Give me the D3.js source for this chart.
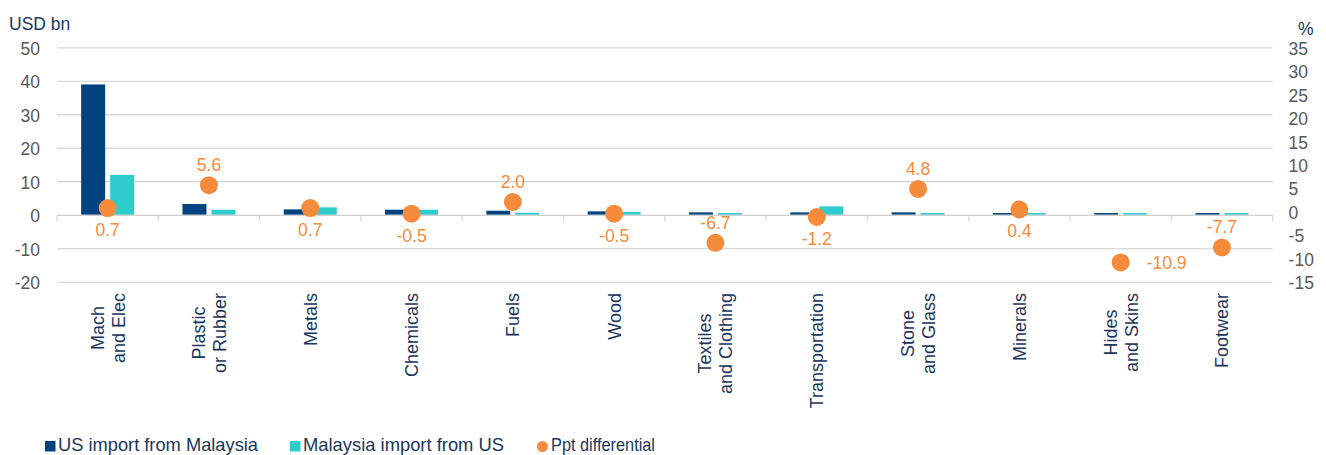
<!DOCTYPE html>
<html>
<head>
<meta charset="utf-8">
<script src="https://cdn.jsdelivr.net/npm/d3@7"></script>
<style>
  html, body { margin: 0; padding: 0; background: #ffffff; }
  svg { display: block; font-family: "Liberation Sans", Arial, sans-serif; }
</style>
</head>
<body>
<svg id="chart" width="1326" height="455"></svg>
<script>
// Product groups (line breaks marked with "\n")
const categories = [
  "Mach\nand Elec", "Plastic\nor Rubber", "Metals", "Chemicals", "Fuels", "Wood",
  "Textiles\nand Clothing", "Transportation", "Stone\nand Glass", "Minerals",
  "Hides\nand Skins", "Footwear"
];
// USD bn
const usImportFromMalaysia = [38.9, 3.2, 1.6, 1.5, 1.2, 1.0, 0.7, 0.7, 0.7, 0.5, 0.5, 0.5];
const malaysiaImportFromUS = [11.9, 1.5, 2.2, 1.5, 0.6, 0.8, 0.5, 2.5, 0.5, 0.5, 0.5, 0.5];
// percentage points
const pptDifferential = [0.7, 5.6, 0.7, -0.5, 2.0, -0.5, -6.7, -1.2, 4.8, 0.4, -10.9, -7.7];

const leftTicks = [50, 40, 30, 20, 10, 0, -10, -20];
const rightTicks = [35, 30, 25, 20, 15, 10, 5, 0, -5, -10, -15];

const seriesNames = ["US import from Malaysia", "Malaysia import from US", "Ppt differential"];

// where each differential label sits relative to its dot
const labelPlacement = ["below", "above", "below", "below", "above", "below",
                        "above", "below", "above", "below", "right", "above"];

const navy = "#00437f", teal = "#2ecccc", orange = "#f68b3b";
const gridColor = "#d9d9d9", tickText = "#595959", titleText = "#1b365d";

const svg = d3.select("#chart");
const plot = { left: 57, right: 1272.6, top: 47.3, bottom: 281.7 };

const x = d3.scaleBand().domain(d3.range(categories.length))
  .range([plot.left, plot.right]).paddingInner(0).paddingOuter(0);
const barW = 24, barGap = 5;
const step = barW + barGap;
const outer = (x.bandwidth() / step - (2 - barGap / step)) / 2;
const xSub = d3.scaleBand().domain([0, 1]).range([0, x.bandwidth()])
  .paddingInner(barGap / step).paddingOuter(outer);

const yL = d3.scaleLinear().domain([-20, 50]).range([plot.bottom, plot.top]);
const yR = d3.scaleLinear().domain([-15, 35]).range([plot.bottom, plot.top]);

const plain = d => String(d);

// horizontal gridlines + left tick labels
const leftAxis = d3.axisLeft(yL).tickValues(leftTicks).tickFormat(plain).tickSize(0).tickPadding(0);
const gL = svg.append("g").attr("transform", `translate(${plot.left},0)`).call(leftAxis);
gL.select(".domain").remove();
gL.selectAll(".tick text").attr("x", -17).attr("dy", "0.4em")
  .attr("font-size", 17.5).attr("fill", tickText).attr("font-family", null);
gL.selectAll(".tick").filter(d => d !== 0).append("line")
  .attr("x1", 0).attr("x2", plot.right - plot.left)
  .attr("stroke", gridColor).attr("stroke-width", 1.3);

// right axis labels
const rightAxis = d3.axisRight(yR).tickValues(rightTicks).tickFormat(plain).tickSize(0).tickPadding(0);
const gR = svg.append("g").attr("transform", `translate(${plot.right},0)`).call(rightAxis);
gR.select(".domain").remove();
gR.selectAll(".tick text").attr("x", 16).attr("dy", "0.4em")
  .attr("font-size", 17.5).attr("fill", tickText).attr("font-family", null);

// axis titles
svg.append("text").attr("x", 9).attr("y", 30).text("USD bn")
  .attr("font-size", 17.5).attr("fill", titleText);
svg.append("text").attr("x", 1298).attr("y", 35).text("%")
  .attr("font-size", 17.5).attr("fill", titleText);

// bars
const barData = [usImportFromMalaysia, malaysiaImportFromUS];
const barColors = [navy, teal];
barData.forEach((vals, s) => {
  svg.append("g").selectAll("rect").data(vals).join("rect")
    .attr("x", (d, i) => x(i) + xSub(s))
    .attr("width", xSub.bandwidth())
    .attr("y", d => yL(Math.max(0, d)))
    .attr("height", d => Math.abs(yL(d) - yL(0)))
    .attr("fill", barColors[s]);
});

// category axis line with boundary ticks
const zeroY = yL(0) + 0.7;
svg.append("line").attr("x1", plot.left).attr("x2", plot.right)
  .attr("y1", zeroY).attr("y2", zeroY)
  .attr("stroke", "#c8c8c8").attr("stroke-width", 1.3).attr("opacity", 0.85);
const bounds = d3.range(categories.length + 1).map(i => plot.left + i * x.bandwidth());
svg.append("g").selectAll("line").data(bounds).join("line")
  .attr("x1", d => d).attr("x2", d => d)
  .attr("y1", zeroY).attr("y2", zeroY + 5.5)
  .attr("stroke", gridColor).attr("stroke-width", 1.3);

// rotated category labels, lines centred, block top-aligned under the axis
const labelTop = 293, lineH = 21, catFont = 18;
const cats = svg.append("g").selectAll("g").data(categories).join("g")
  .attr("transform", (d, i) => `translate(${x(i) + x.bandwidth() / 2},${labelTop}) rotate(-90)`);
cats.each(function (d) {
  const lines = d.split("\n");
  const g = d3.select(this);
  const t = g.append("text").attr("font-size", catFont).attr("fill", titleText)
    .attr("text-anchor", "middle");
  lines.forEach((ln, k) => {
    t.append("tspan").attr("x", 0)
      .attr("y", (k - (lines.length - 1) / 2) * lineH + catFont * 0.36)
      .text(ln);
  });
  const maxW = d3.max(t.selectAll("tspan").nodes(), n => n.getComputedTextLength());
  t.selectAll("tspan").attr("x", -maxW / 2);
});

// differential dots and labels
const cx = i => x(i) + x.bandwidth() / 2;
svg.append("g").selectAll("circle").data(pptDifferential).join("circle")
  .attr("cx", (d, i) => cx(i)).attr("cy", d => yR(d)).attr("r", 9)
  .attr("fill", orange);
svg.append("g").selectAll("text").data(pptDifferential).join("text")
  .attr("x", (d, i) => labelPlacement[i] === "right" ? cx(i) + 26 : cx(i))
  .attr("y", (d, i) => {
    const p = labelPlacement[i];
    return yR(d) + (p === "above" ? -20.5 : p === "below" ? 21.5 : 0);
  })
  .attr("dy", "0.36em")
  .attr("text-anchor", (d, i) => labelPlacement[i] === "right" ? "start" : "middle")
  .attr("font-size", 17.5).attr("fill", orange)
  .text(d => d.toFixed(1));

// legend
const legendY = 446;
const legend = svg.append("g");
const legendItems = [
  { name: seriesNames[0], color: navy, shape: "square", mx: 45, tx: 58, tw: 200 },
  { name: seriesNames[1], color: teal, shape: "square", mx: 290, tx: 303, tw: 201 },
  { name: seriesNames[2], color: orange, shape: "circle", mx: 537, tx: 551, tw: 104 }
];
legendItems.forEach(it => {
  if (it.shape === "square") {
    legend.append("rect").attr("x", it.mx).attr("y", legendY - 5)
      .attr("width", 10.5).attr("height", 10.5).attr("fill", it.color);
  } else {
    legend.append("circle").attr("cx", it.mx + 5.5).attr("cy", legendY + 0.5)
      .attr("r", 5.5).attr("fill", it.color);
  }
  legend.append("text").attr("x", it.tx).attr("y", 451)
    .attr("font-size", 18.5).attr("fill", titleText)
    .attr("textLength", it.tw).attr("lengthAdjust", "spacingAndGlyphs")
    .text(it.name);
});
</script>
</body>
</html>
